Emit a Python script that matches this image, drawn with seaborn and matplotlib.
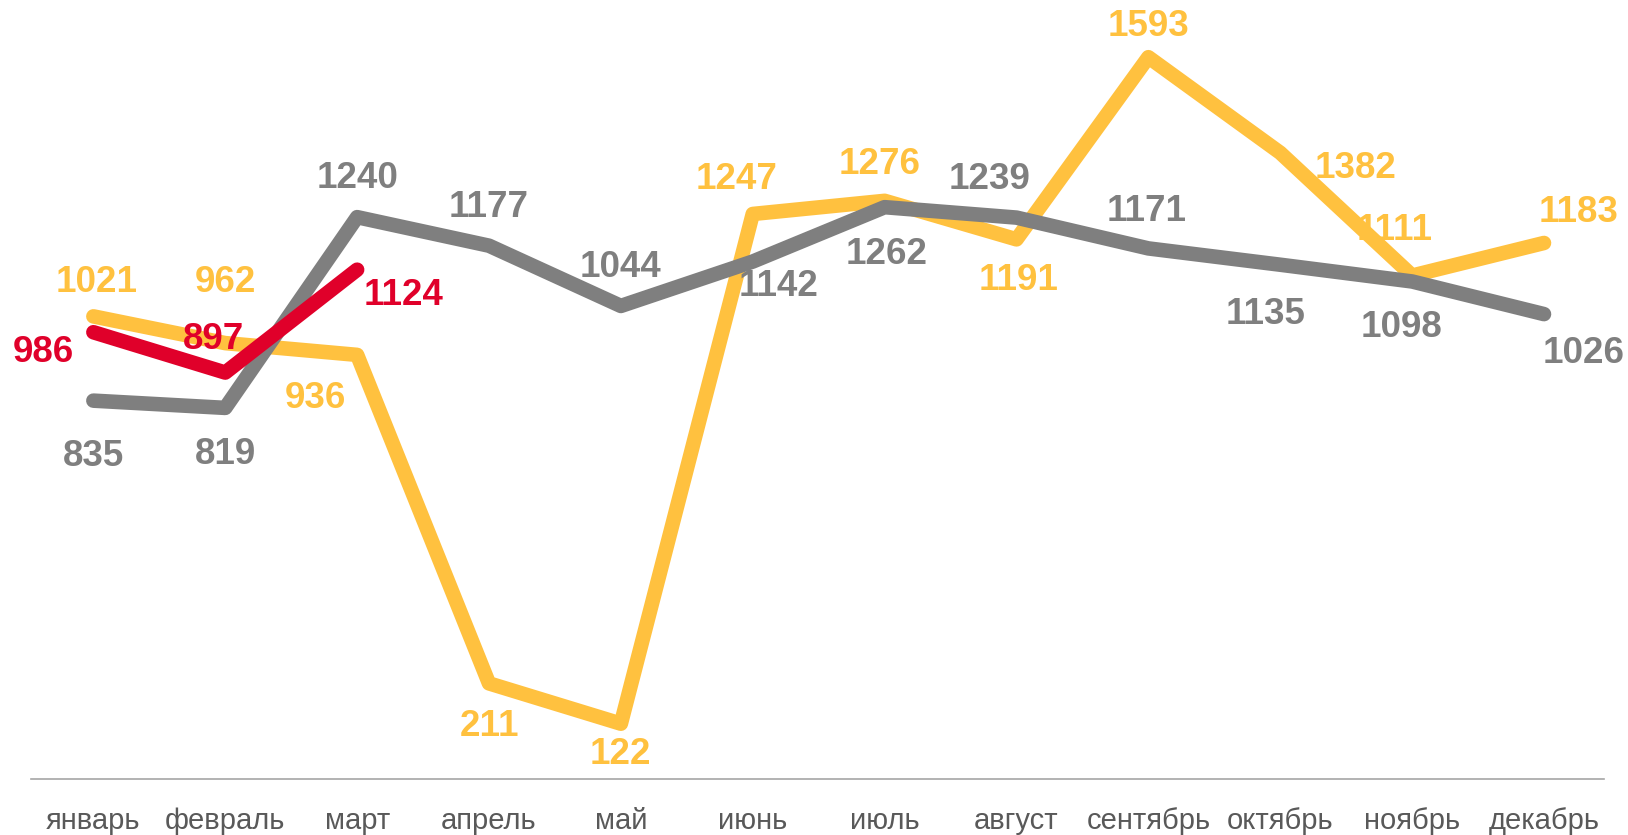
import seaborn as sns
import matplotlib.pyplot as plt
import pandas as pd

# données
months = ['январь', 'февраль', 'март', 'апрель', 'май', 'июнь',
          'июль', 'август', 'сентябрь', 'октябрь', 'ноябрь', 'декабрь']
y2019 = [835, 819, 1240, 1177, 1044, 1142, 1262, 1239, 1171, 1135, 1098, 1026]
y2020 = [1021, 962, 936, 211, 122, 1247, 1276, 1191, 1593, 1382, 1111, 1183]
y2021 = [986, 897, 1124]

colors = {'2020': '#FFC13F', '2019': '#7F7F7F', '2021': '#E0002A'}

# décalage des étiquettes (pixels)
offsets = {
    '2020': [(3, 33), (0, 58), (-40, -42), (0, -42), (0, -30), (-16, 33),
             (-5, 35), (2, -40), (0, 30), (73, -15), (-17, 43), (33, 29)],
    '2019': [(0, -54), (0, -45), (0, 37), (0, 37), (0, 37), (25, -24),
             (2, -46), (-26, 37), (-2, 36), (-14, -48), (-10, -44), (38, -38)],
    '2021': [(-48, -20), (-11, 32), (45, -25)],
}

series = {'2020': y2020, '2019': y2019, '2021': y2021}
rows = []
for name, vals in series.items():
    for m, v in zip(months, vals):
        rows.append({'month': m, 'value': v, 'year': name})
df = pd.DataFrame(rows)

sns.set_style('white')
plt.rcParams['font.family'] = ['Liberation Sans', 'DejaVu Sans']

fig = plt.figure(figsize=(16.28, 8.35), dpi=100)
ax = fig.add_axes([31 / 1628, 0.0671, (1604 - 31) / 1628, 0.9333])

sns.lineplot(data=df, x='month', y='value', hue='year', palette=colors,
             hue_order=['2020', '2019', '2021'], sort=False, linewidth=10.5,
             solid_capstyle='round', solid_joinstyle='round', legend=False, ax=ax)

k = 0.72 * 1.038
for name, vals in series.items():
    for i, v in enumerate(vals):
        dx, dy = offsets[name][i]
        ax.annotate(str(v), (i, v), xytext=(dx * k, dy * k), textcoords='offset points',
                    ha='center', va='center', fontsize=26.5, fontweight='bold',
                    color=colors[name])

ax.set_xlim(-0.473, 11.455)
ax.set_ylim(0, 1720)
ax.set_yticks([])
ax.set_xlabel('')
ax.set_ylabel('')
for s in ['top', 'right', 'left']:
    ax.spines[s].set_visible(False)
ax.spines['bottom'].set_color('#A6A6A6')
ax.spines['bottom'].set_linewidth(1.2)
ax.tick_params(axis='x', length=0, pad=20, labelsize=21, labelcolor='#595959')

fig.savefig('out.png', dpi=100)
